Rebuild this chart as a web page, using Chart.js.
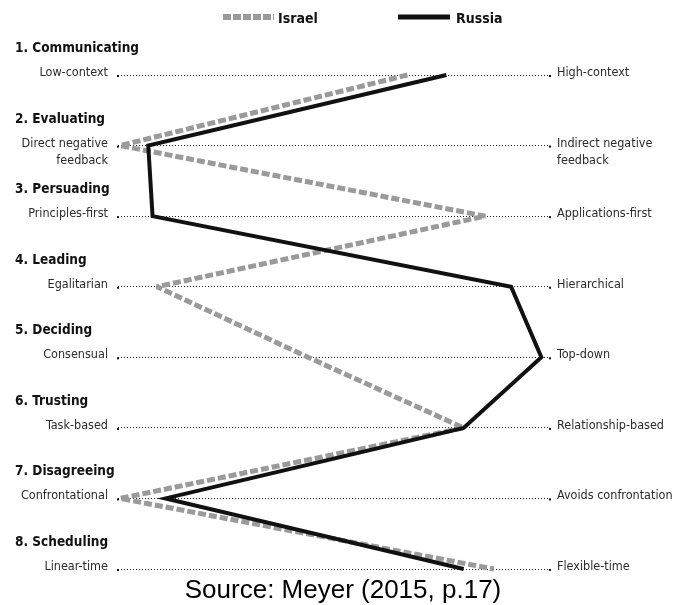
<!DOCTYPE html>
<html>
<head>
<meta charset="utf-8">
<script src="https://cdn.jsdelivr.net/npm/chart.js@4.4.1/dist/chart.umd.min.js"></script>
<style>
  html, body { margin: 0; padding: 0; background: #fff; }
  #wrap { position: relative; width: 676px; height: 605px; }
</style>
</head>
<body>
<div id="wrap"><canvas id="chart"></canvas></div>
<script>
const dimensions = ['1. Communicating', '2. Evaluating', '3. Persuading', '4. Leading',
  '5. Deciding', '6. Trusting', '7. Disagreeing', '8. Scheduling'];
const leftLabels = ['Low-context', ['Direct negative', 'feedback'], 'Principles-first', 'Egalitarian',
  'Consensual', 'Task-based', 'Confrontational', 'Linear-time'];
const rightLabels = ['High-context', ['Indirect negative', 'feedback'], 'Applications-first', 'Hierarchical',
  'Top-down', 'Relationship-based', 'Avoids confrontation', 'Flexible-time'];
const israel = [67, 0.5, 85, 9, 44, 80, 0.5, 87];
const russia = [76, 7, 8, 91, 98, 80, 11, 80];
const seriesNames = ['Israel', 'Russia'];
const sourceNote = 'Source: Meyer (2015, p.17)';

const NARROW = "'Liberation Sans Narrow', 'DejaVu Sans Condensed', 'Arial Narrow', sans-serif";
const GREY = '#9a9a9a';
const BLACK = '#111';

// little end dots on each dotted scale line
const scaleEnds = {
  id: 'scaleEnds',
  beforeDatasetsDraw(chart) {
    const { ctx, chartArea, scales: { y } } = chart;
    ctx.save();
    ctx.fillStyle = '#111';
    dimensions.forEach((_, i) => {
      const py = y.getPixelForValue(i);
      ctx.fillRect(chartArea.left - 1, py, 2, 2);
      ctx.fillRect(chartArea.right - 1, py, 2, 2);
    });
    ctx.restore();
  }
};

// titles, pole labels, legend and source note
const scaleText = {
  id: 'scaleText',
  afterDraw(chart) {
    const { ctx, chartArea, scales: { y } } = chart;
    ctx.save();
    ctx.textBaseline = 'alphabetic';
    dimensions.forEach((title, i) => {
      const py = y.getPixelForValue(i);
      ctx.font = `bold 13.5px ${NARROW}`;
      ctx.fillStyle = BLACK;
      ctx.textAlign = 'left';
      ctx.fillText(title, 15, py - 23);

      ctx.font = `12.5px ${NARROW}`;
      ctx.fillStyle = '#2b2b2b';
      ctx.textAlign = 'right';
      [].concat(leftLabels[i]).forEach((t, k) => ctx.fillText(t, chartArea.left - 10, py + 1 + k * 17));
      ctx.textAlign = 'left';
      [].concat(rightLabels[i]).forEach((t, k) => ctx.fillText(t, chartArea.right + 7, py + 1 + k * 17));
    });

    // legend
    const ds = chart.data.datasets;
    const isr = ds.find(d => d.label === seriesNames[0]);
    const rus = ds.find(d => d.label === seriesNames[1]);
    ctx.lineCap = 'butt';
    ctx.strokeStyle = isr.borderColor;
    ctx.lineWidth = 6;
    ctx.setLineDash([8, 2]);
    ctx.beginPath(); ctx.moveTo(223, 17); ctx.lineTo(274, 17); ctx.stroke();
    ctx.setLineDash([]);
    ctx.strokeStyle = rus.borderColor;
    ctx.lineWidth = 5;
    ctx.beginPath(); ctx.moveTo(398, 17); ctx.lineTo(450, 17); ctx.stroke();
    ctx.font = `bold 14px ${NARROW}`;
    ctx.fillStyle = BLACK;
    ctx.textAlign = 'left';
    ctx.fillText(seriesNames[0], 278, 23);
    ctx.fillText(seriesNames[1], 456, 23);

    // source
    ctx.font = "26px 'Liberation Sans', Arial, sans-serif";
    ctx.fillStyle = '#000';
    ctx.textAlign = 'center';
    ctx.fillText(sourceNote, 343, 598);
    ctx.restore();
  }
};

new Chart(document.getElementById('chart'), {
  type: 'line',
  data: {
    labels: dimensions,
    datasets: [
      {
        label: seriesNames[0],
        data: israel,
        borderColor: GREY,
        borderWidth: 5,
        borderDash: [8, 3],
        borderJoinStyle: 'bevel',
        pointRadius: 0,
        tension: 0,
        clip: false,
        order: 2,
      },
      {
        label: seriesNames[1],
        data: russia,
        borderColor: BLACK,
        borderWidth: 4,
        pointRadius: 0,
        tension: 0,
        clip: false,
        order: 1,
      },
    ],
  },
  options: {
    indexAxis: 'y',
    responsive: true,
    maintainAspectRatio: false,
    animation: false,
    layout: { padding: { left: 118, right: 126, top: 75, bottom: 36 } },
    plugins: {
      legend: { display: false },
      tooltip: { enabled: false },
    },
    scales: {
      x: { type: 'linear', min: 0, max: 100, display: false },
      y: {
        type: 'category',
        ticks: { display: false },
        grid: { drawTicks: false, color: '#222', lineWidth: 1 },
        border: { display: false, dash: [1, 2] },
      },
    },
  },
  plugins: [scaleEnds, scaleText],
});
</script>
</body>
</html>
